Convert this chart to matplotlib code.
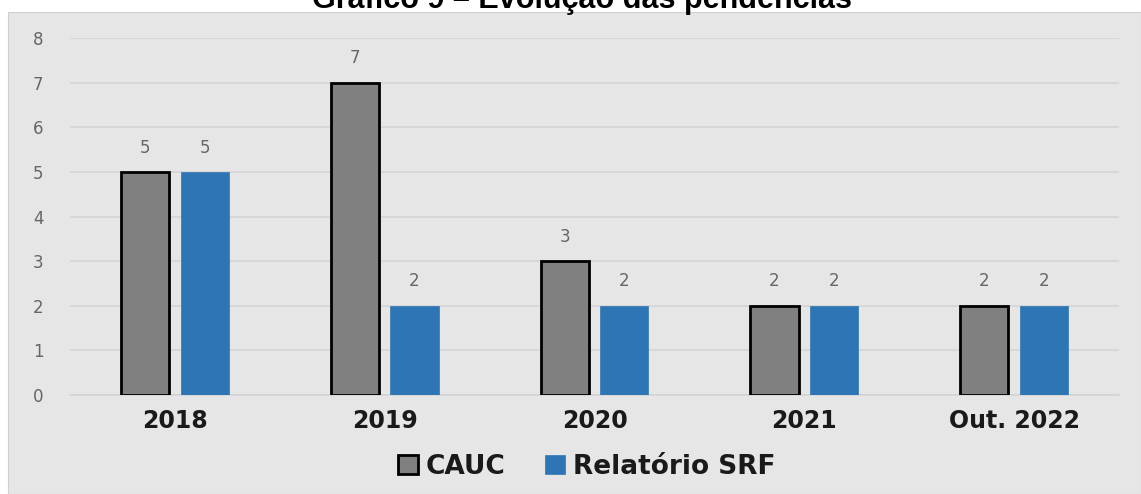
import numpy as np
import matplotlib.pyplot as plt
from matplotlib.patches import Rectangle

categories = ['2018', '2019', '2020', '2021', 'Out. 2022']
cauc = [5, 7, 3, 2, 2]
srf = [5, 2, 2, 2, 2]
series_names = ['CAUC', 'Relatório SRF']

W, H = 1141, 494
fig = plt.figure(figsize=(W / 100, H / 100), dpi=100)
fig.patch.set_facecolor('white')

# grey panel behind the chart (title sits above it, partly cropped)
panel = Rectangle((8 / W, 0), 1 - 8 / W, 1 - 12 / H,
                  transform=fig.transFigure, facecolor='#e6e6e6',
                  edgecolor='#d0d0d0', linewidth=0.8, zorder=-10)
fig.patches.append(panel)
fig.text(582 / W, 1 - 8 / H, 'Gráfico 9 – Evolução das pendências',
         ha='center', va='baseline', fontsize=22, fontweight='bold',
         family='Liberation Sans', color='black')

ax = fig.add_axes([70 / W, 1 - 395 / H, (1119 - 70) / W, (395 - 38) / H])
ax.set_facecolor('none')

x = np.arange(len(categories))
bw = 0.23
off = 0.142
b1 = ax.bar(x - off, cauc, bw, color='#808080', edgecolor='black',
            linewidth=2, label=series_names[0], zorder=3)
b2 = ax.bar(x + off, srf, bw, color='#2e75b6', edgecolor='#2e75b6',
            linewidth=0.5, label=series_names[1], zorder=3)

for bars, vals in ((b1, cauc), (b2, srf)):
    for r, v in zip(bars, vals):
        ax.annotate(str(v), (r.get_x() + r.get_width() / 2, v),
                    xytext=(0, 11), textcoords='offset points',
                    ha='center', va='bottom', fontsize=12, color='#666666')

ax.set_xlim(-0.5, 4.5)
ax.set_ylim(0, 8)
ax.set_yticks(range(0, 9))
ax.yaxis.grid(True, color='#d4d4d4', linewidth=1.2, zorder=0)
ax.set_axisbelow(True)
for s in ['top', 'right', 'left']:
    ax.spines[s].set_visible(False)
ax.spines['bottom'].set_color('#d4d4d4')
ax.spines['bottom'].set_linewidth(1.2)
ax.tick_params(axis='both', length=0)
ax.tick_params(axis='y', labelsize=12, labelcolor='#666666', pad=19)
ax.set_xticks(x)
ax.set_xticklabels(categories, fontsize=17, fontweight='bold', color='#1a1a1a')
ax.tick_params(axis='x', pad=10)

leg = fig.legend(handles=[b1, b2], loc='center', bbox_to_anchor=(587 / W, 1 - 467 / H),
                 ncol=2, frameon=False, handlelength=0.75, handleheight=0.75,
                 handletextpad=0.3, columnspacing=1.5,
                 prop={'size': 19, 'weight': 'bold'})
for t in leg.get_texts():
    t.set_color('#1a1a1a')

plt.savefig('out.png', dpi=100, facecolor=fig.get_facecolor())
